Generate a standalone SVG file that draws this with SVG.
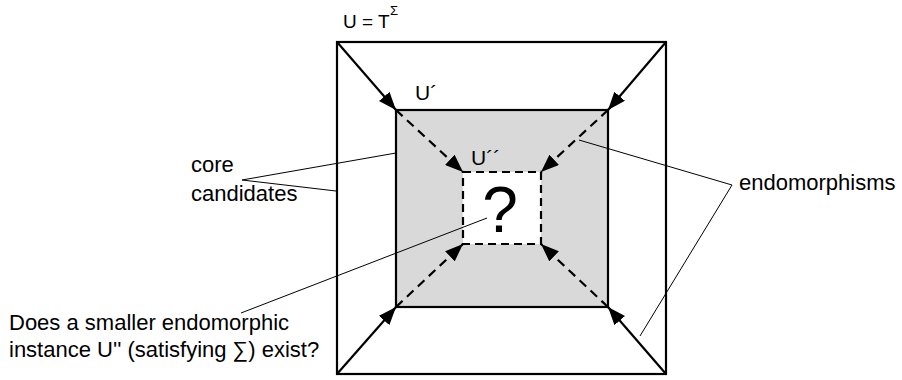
<svg xmlns="http://www.w3.org/2000/svg" width="902" height="380" viewBox="0 0 902 380">
<style>
text{font-family:"Liberation Sans",Arial,Helvetica,sans-serif;fill:#000}
.lbl{font-size:22px}
.box{stroke:#000;stroke-width:2.2}
.solid{stroke:#000;stroke-width:2.2;fill:none}
.dash{stroke:#000;stroke-width:2.2;fill:none;stroke-dasharray:9,6}
.lead{stroke:#000;stroke-width:1;fill:none}
</style>
<defs>
<marker id="ah" viewBox="0 0 18 14" refX="18" refY="7" markerWidth="18" markerHeight="14" markerUnits="userSpaceOnUse" orient="auto">
<path d="M0,0 L18,7 L0,14 Z" fill="#000"/>
</marker>
</defs>
<g id="outer">
<rect class="box" x="337" y="42" width="329" height="332" fill="#fff"/>
<text x="343" y="28" style="font-size:19px">U = T</text>
<text x="390" y="15" style="font-size:13px">Σ</text>
</g>
<g id="core-candidate">
<rect class="box" x="396" y="110" width="212" height="197" fill="#d9d9d9"/>
<text x="415" y="100" style="font-size:21px">U´</text>
</g>
<g id="smaller">
<rect x="463" y="172" width="78" height="72" fill="#fff" stroke="#000" stroke-width="2.2" stroke-dasharray="8,5"/>
<text x="471" y="165" style="font-size:21px">U´´</text>
<text x="500" y="232" text-anchor="middle" style="font-size:64px">?</text>
</g>
<g id="connectors">
<line class="solid" x1="337" y1="42" x2="396" y2="110" marker-end="url(#ah)"/>
<line class="solid" x1="666" y1="42" x2="608" y2="110" marker-end="url(#ah)"/>
<line class="solid" x1="337" y1="374" x2="396" y2="307" marker-end="url(#ah)"/>
<line class="solid" x1="666" y1="374" x2="608" y2="307" marker-end="url(#ah)"/>
<line class="dash" x1="396" y1="110" x2="463" y2="172" marker-end="url(#ah)"/>
<line class="dash" x1="608" y1="110" x2="541" y2="172" marker-end="url(#ah)"/>
<line class="dash" x1="396" y1="307" x2="463" y2="244" marker-end="url(#ah)"/>
<line class="dash" x1="608" y1="307" x2="541" y2="244" marker-end="url(#ah)"/>
<polyline class="lead" points="396,153 242,180 336,191"/>
<polyline class="lead" points="579,140 732,185 640,336"/>
<line class="lead" x1="241" y1="313" x2="487" y2="218"/>
</g>
<g id="labels">
<text class="lbl" x="191" y="172">core</text>
<text class="lbl" x="191" y="201">candidates</text>
<text class="lbl" x="739" y="190">endomorphisms</text>
<text class="lbl" x="9" y="330">Does a smaller endomorphic</text>
<text class="lbl" x="9" y="357">instance U'' (satisfying ∑) exist?</text>
</g>
</svg>
